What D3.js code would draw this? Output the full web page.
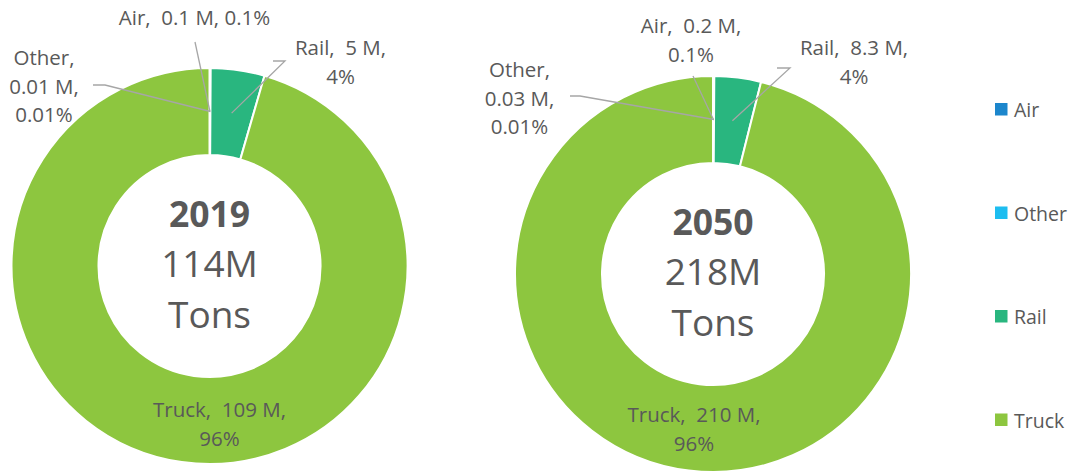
<!DOCTYPE html>
<html>
<head>
<meta charset="utf-8">
<script src="https://cdn.jsdelivr.net/npm/d3@7"></script>
<style>
  html, body { margin: 0; padding: 0; background: #fff; }
  svg { display: block; font-family: "Open Sans", Lato, sans-serif; }
  text { white-space: pre; fill: #595959; }
</style>
</head>
<body>
<svg id="chart" width="1075" height="475"></svg>
<script>
// Freight tonnage by mode
const categories = ["Air", "Other", "Rail", "Truck"];
const colors = ["#1C86CC", "#1DBDF0", "#29B67F", "#8DC63F"];
const tons2019 = [0.1, 0.01, 5, 109];
const tons2050 = [0.2, 0.03, 8.3, 210];
const share2019 = ["0.1%", "0.01%", "4%", "96%"];
const share2050 = ["0.1%", "0.01%", "4%", "96%"];
const years = ["2019", "2050"];
const totals = ["114M", "218M"];
const unitLabel = "Tons";

const svg = d3.select("#chart");

// Donut placement and label layout (offsets from each donut's centre)
const donuts = [
  {
    year: years[0], total: totals[0], values: tons2019, shares: share2019,
    cx: 209.5, cy: 266,
    labels: [
      { split: 1, x: -15, y: -241, lead: [[-14.5, -224]] },
      { split: 3, x: -165.5, y: -201, lead: [[-116.5, -181], [-104.5, -181]] },
      { split: 2, x: 131, y: -211, lead: [[63.5, -205], [75.5, -205]] },
      { split: 2, x: 10, y: 151 }
    ]
  },
  {
    year: years[1], total: totals[1], values: tons2050, shares: share2050,
    cx: 713, cy: 274,
    labels: [
      { split: 2, x: -22, y: -241, lead: [[-20, -198]] },
      { split: 3, x: -193.5, y: -197, lead: [[-143, -178], [-133, -178]] },
      { split: 2, x: 141, y: -219, lead: [[64, -206], [77, -206]] },
      { split: 2, x: -19, y: 148 }
    ]
  }
];

const outerR = 198, innerR = 111;
const lineH = 28.5;
const labelSize = 20.5;
const centreSize = 37;

const pie = d3.pie().sort(null).value(d => d);
const arc = d3.arc().innerRadius(innerR).outerRadius(outerR);

function labelLines(cat, val, share, split) {
  if (split === 1) return [`${cat},  ${val} M, ${share}`];
  if (split === 2) return [`${cat},  ${val} M,`, share];
  return [`${cat},`, `${val} M,`, share];
}

donuts.forEach(dn => {
  const g = svg.append("g").attr("transform", `translate(${dn.cx},${dn.cy})`);
  const arcs = pie(dn.values);

  g.selectAll("path.slice")
    .data(arcs)
    .join("path")
    .attr("class", "slice")
    .attr("d", arc)
    .attr("fill", (d, i) => colors[i])
    .attr("stroke", "#fff")
    .attr("stroke-width", 2)
    .attr("stroke-linejoin", "round");

  // Leader lines from label to slice centroid
  arcs.forEach((a, i) => {
    const lay = dn.labels[i];
    if (!lay.lead) return;
    const pts = lay.lead.concat([arc.centroid(a)]);
    g.append("path")
      .attr("d", d3.line()(pts))
      .attr("fill", "none")
      .attr("stroke", "#A6A6A6")
      .attr("stroke-width", 1.3);
  });

  // Data labels
  arcs.forEach((a, i) => {
    const lay = dn.labels[i];
    const lines = labelLines(categories[i], dn.values[i], dn.shares[i], lay.split);
    const t = g.append("text")
      .attr("text-anchor", "middle")
      .attr("font-size", labelSize);
    lines.forEach((ln, k) => {
      t.append("tspan").attr("x", lay.x).attr("y", lay.y + k * lineH).text(ln);
    });
  });

  // Centre caption
  g.append("text").attr("text-anchor", "middle").attr("y", -39)
    .attr("font-size", 35.5).attr("font-weight", "bold").text(dn.year);
  g.append("text").attr("text-anchor", "middle").attr("y", 11)
    .attr("font-size", centreSize).text(dn.total);
  g.append("text").attr("text-anchor", "middle").attr("y", 62)
    .attr("font-size", centreSize).text(unitLabel);
});

// Legend
const legend = svg.append("g").attr("transform", "translate(995,103)");
const legendStep = 103.5;
categories.forEach((c, i) => {
  const row = legend.append("g").attr("transform", `translate(0,${i * legendStep})`);
  row.append("rect").attr("width", 12.5).attr("height", 12.5).attr("fill", colors[i]);
  row.append("text").attr("x", 19).attr("y", 14).attr("font-size", 19.5).text(c);
});
</script>
</body>
</html>
